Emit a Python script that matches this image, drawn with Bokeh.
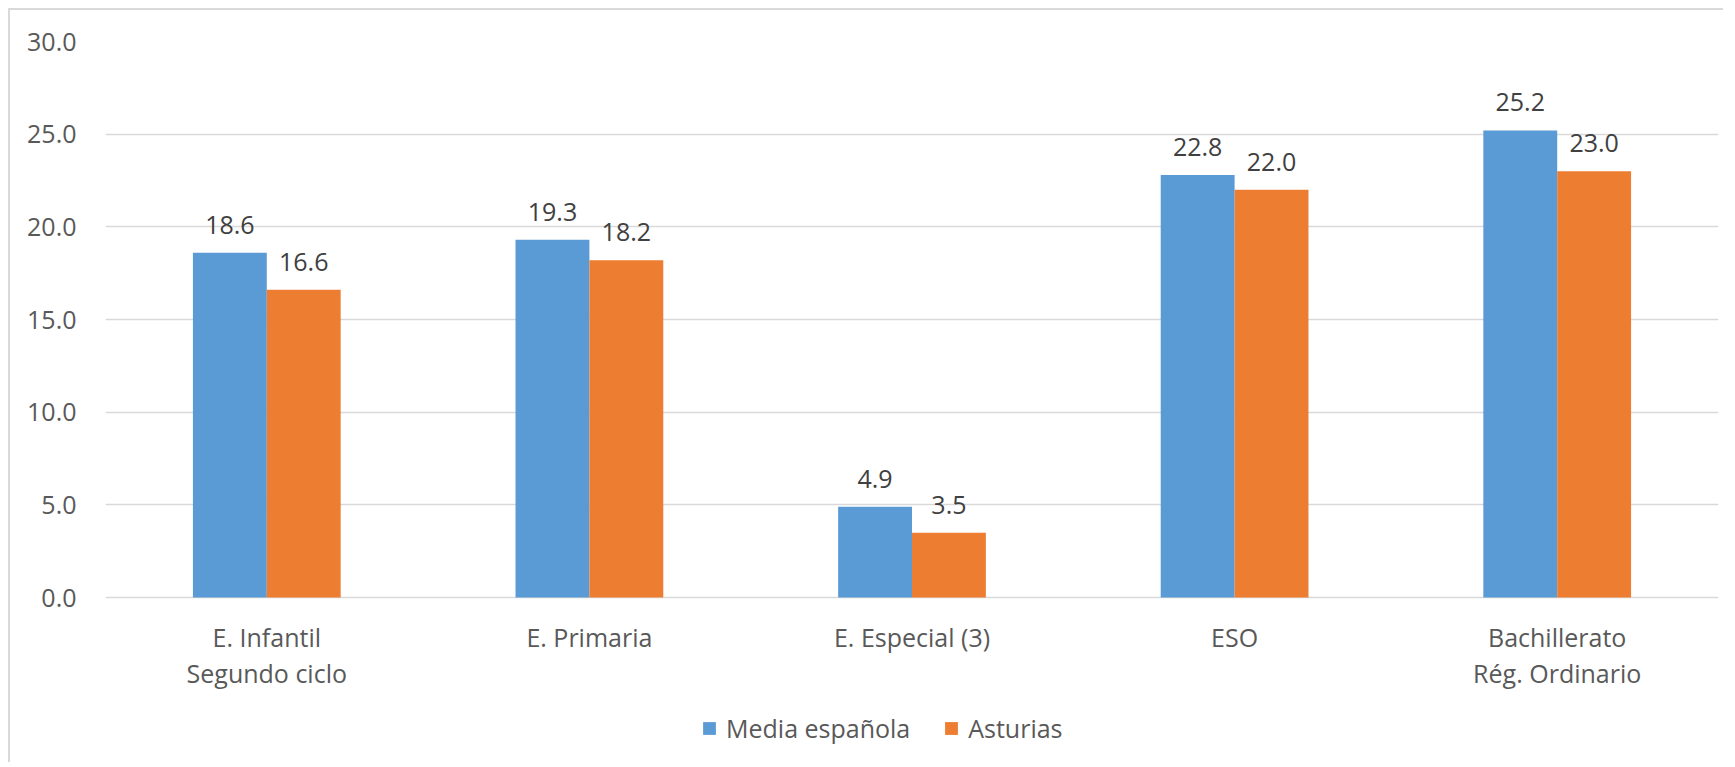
from bokeh.plotting import figure
from bokeh.models import (ColumnDataSource, FactorRange, Range1d, FixedTicker,
                          NumeralTickFormatter, LabelSet, Legend, LegendItem)
from bokeh.core.properties import value
from bokeh.transform import dodge
from bokeh.embed import file_html
from bokeh.resources import INLINE

categories = ["E. Infantil\nSegundo ciclo", "E. Primaria", "E. Especial (3)", "ESO",
              "Bachillerato\nRég. Ordinario"]
media_espanola = [18.6, 19.3, 4.9, 22.8, 25.2]
asturias = [16.6, 18.2, 3.5, 22.0, 23.0]
series_names = ["Media española", "Asturias"]
y_ticks = [0, 5, 10, 15, 20, 25, 30]

FONT = "Open Sans"
BLUE = "#5B9BD5"
ORANGE = "#ED7D31"

line1 = [c.split("\n")[0] for c in categories]
line2 = [c.split("\n")[1] if "\n" in c else "" for c in categories]

src = ColumnDataSource(dict(
    cat=categories,
    media=media_espanola,
    ast=asturias,
    media_lbl=[f"{v:.1f}" for v in media_espanola],
    ast_lbl=[f"{v:.1f}" for v in asturias],
    l1=line1,
    l2=line2,
    zero=[0] * len(categories),
))

# frame: 0..30 spans 556 px; extra 160 px below zero for category labels + legend
px_per_unit = 556 / 30
y_bottom = -160 / px_per_unit

p = figure(x_range=FactorRange(*categories), y_range=Range1d(y_bottom, 30),
           frame_width=1613, frame_height=716,
           min_border_left=95, min_border_right=5, min_border_top=31, min_border_bottom=5,
           output_backend="svg", toolbar_location=None)
p.styles = {"border-left": "2px solid #d9d9d9", "border-top": "2px solid #d9d9d9",
            "margin-left": "8px", "margin-top": "8px"}
p.outline_line_color = None
p.background_fill_color = "white"
p.border_fill_color = "white"

bw = 0.229
r1 = p.vbar(x=dodge("cat", -bw / 2, range=p.x_range), top="media", width=bw, source=src,
            fill_color=BLUE, line_color=None)
r2 = p.vbar(x=dodge("cat", bw / 2, range=p.x_range), top="ast", width=bw, source=src,
            fill_color=ORANGE, line_color=None)

for col, top, off in (("media_lbl", "media", -bw / 2), ("ast_lbl", "ast", bw / 2)):
    lbl = LabelSet(x=dodge("cat", off, range=p.x_range), y=top, text=col, source=src,
                   text_align="center", text_baseline="alphabetic", y_offset=19,
                   text_font=value(FONT), text_font_size="25px", text_color="#404040")
    p.add_layout(lbl)

# category labels (two lines)
for col, yoff in (("l1", -39), ("l2", -75)):
    cl = LabelSet(x=dodge("cat", 0, range=p.x_range), y="zero", text=col, source=src,
                  text_align="center", text_baseline="middle", y_offset=yoff,
                  text_font=value(FONT), text_font_size="25px", text_color="#595959")
    p.add_layout(cl)

# axes
p.xaxis.visible = False
p.yaxis.ticker = FixedTicker(ticks=y_ticks)
p.yaxis.formatter = NumeralTickFormatter(format="0.0")
p.yaxis.axis_line_color = None
p.yaxis.major_tick_line_color = None
p.yaxis.minor_tick_line_color = None
p.yaxis.major_label_standoff = 23
p.yaxis.major_label_text_font = FONT
p.yaxis.major_label_text_font_size = "25px"
p.yaxis.major_label_text_color = "#595959"

p.xgrid.grid_line_color = None
p.ygrid.grid_line_color = "#d9d9d9"
p.ygrid.grid_line_width = 1.5
p.x_range.range_padding = 0

legend = Legend(items=[LegendItem(label=series_names[0], renderers=[r1]),
                       LegendItem(label=series_names[1], renderers=[r2])],
                orientation="horizontal", location=(596, 12),
                glyph_width=16, glyph_height=16, label_standoff=9, spacing=33,
                padding=0, margin=0, border_line_color=None, background_fill_alpha=0,
                label_text_font=FONT, label_text_font_size="25px", label_text_color="#595959")
p.add_layout(legend, "center")

open("out.html", "w").write(file_html(p, INLINE))
